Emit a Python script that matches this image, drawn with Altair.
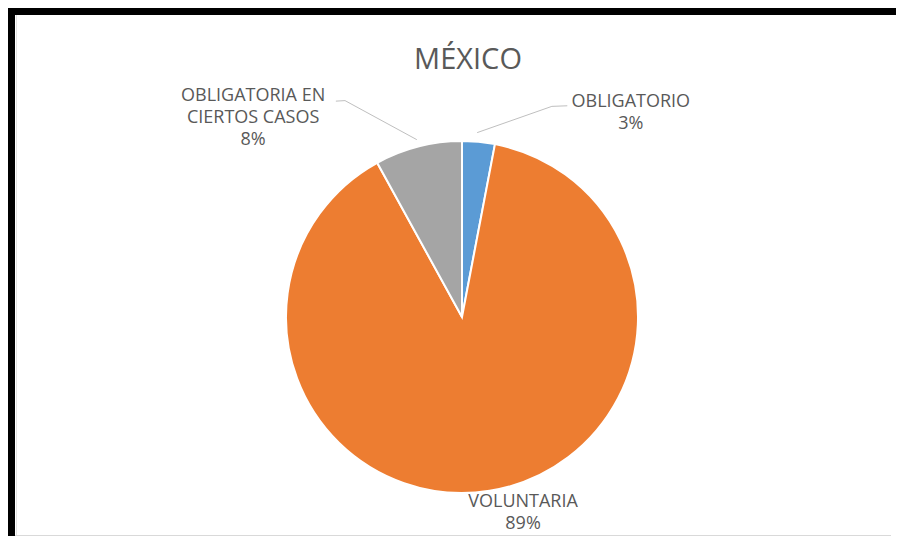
import math
import altair as alt
import pandas as pd

# ---- data ----
categories = ["OBLIGATORIO", "VOLUNTARIA", "OBLIGATORIA EN CIERTOS CASOS"]
values = [3, 89, 8]
label_lines = ["OBLIGATORIO\n3%", "VOLUNTARIA\n89%", "OBLIGATORIA EN\nCIERTOS CASOS\n8%"]
title_text = "MÉXICO"

# ---- styles / layout (not data) ----
colors = ["#5B9BD5", "#ED7D31", "#A5A5A5"]
CX, CY, R = 454, 309, 176
label_angle_deg = [38.2, 161.75, 316.6]
label_radius = [273, 195, 304]
leader_cat = ["OBLIGATORIO"] * 3 + ["OBLIGATORIA EN CIERTOS CASOS"] * 3
leader_seq = [0, 1, 2, 0, 1, 2]
leader_angle_deg = [4.7, 23.1, 26.5, 345.7, 331.6, 329.7]
leader_radius = [185, 229, 236, 183, 246, 250]

W, H = 888, 528
FONT = "Open Sans"

pie_df = pd.DataFrame({"category": categories, "value": values, "idx": list(range(len(values)))})
lab_df = pd.DataFrame({
    "label": label_lines,
    "la": [math.radians(a) for a in label_angle_deg],
    "lr": label_radius,
})
lead_df = pd.DataFrame({
    "cat": leader_cat, "seq": leader_seq,
    "a": [math.radians(a) for a in leader_angle_deg], "r": leader_radius,
})

pie = alt.Chart(pie_df).mark_arc(radius=R, stroke="white", strokeWidth=2).encode(
    theta=alt.Theta("value:Q", stack=True),
    color=alt.Color("category:N", scale=alt.Scale(domain=categories, range=colors), legend=None),
    order=alt.Order("idx:Q"),
    x=alt.value(CX),
    y=alt.value(CY),
)

labels = alt.Chart(lab_df).mark_text(
    font=FONT, fontSize=18, color="#595959", lineBreak="\n", lineHeight=22,
    align="center", baseline="middle",
).encode(
    theta=alt.Theta("la:Q", scale=None, stack=False),
    radius=alt.Radius("lr:Q", scale=None),
    text="label:N",
    x=alt.value(CX),
    y=alt.value(CY),
)

leaders = alt.Chart(lead_df).transform_calculate(
    px=f"{CX} + datum.r * sin(datum.a)",
    py=f"{CY} - datum.r * cos(datum.a)",
).mark_line(color="#BFBFBF", strokeWidth=1).encode(
    x=alt.X("px:Q", scale=None, axis=None),
    y=alt.Y("py:Q", scale=None, axis=None),
    detail="cat:N",
    order="seq:Q",
)

title = alt.Chart(pd.DataFrame({"t": [title_text]})).mark_text(
    font=FONT, fontSize=29, color="#595959", align="center", baseline="middle"
).encode(text="t:N", x=alt.value(460), y=alt.value(52))

one = pd.DataFrame({"k": [0]})
gray_left = alt.Chart(one).mark_rule(color="#E3E3E3", strokeWidth=1).encode(
    x=alt.value(8.5), y=alt.value(7), y2=alt.value(H))
gray_bottom = alt.Chart(one).mark_rule(color="#D9D9D9", strokeWidth=1).encode(
    x=alt.value(7), x2=alt.value(W - 4), y=alt.value(H - 0.5))
white_right = alt.Chart(one).mark_rule(color="white", strokeWidth=6).encode(
    x=alt.value(W - 2), y=alt.value(0), y2=alt.value(H))

black_top = alt.Chart(one).mark_rule(color="black", strokeWidth=7).encode(
    x=alt.value(0), x2=alt.value(W), y=alt.value(3.5))
black_left = alt.Chart(one).mark_rule(color="black", strokeWidth=7).encode(
    x=alt.value(3.5), y=alt.value(0), y2=alt.value(H))

chart = alt.layer(
    gray_left, gray_bottom, leaders, pie, labels, title, white_right, black_top, black_left
).properties(
    width=W, height=H, background="white", padding=0,
    autosize=alt.AutoSizeParams(type="none"),
).configure_view(stroke="transparent", strokeWidth=0, strokeOpacity=0)

chart.save("out.html", embed_options={"renderer": "svg", "actions": False})
